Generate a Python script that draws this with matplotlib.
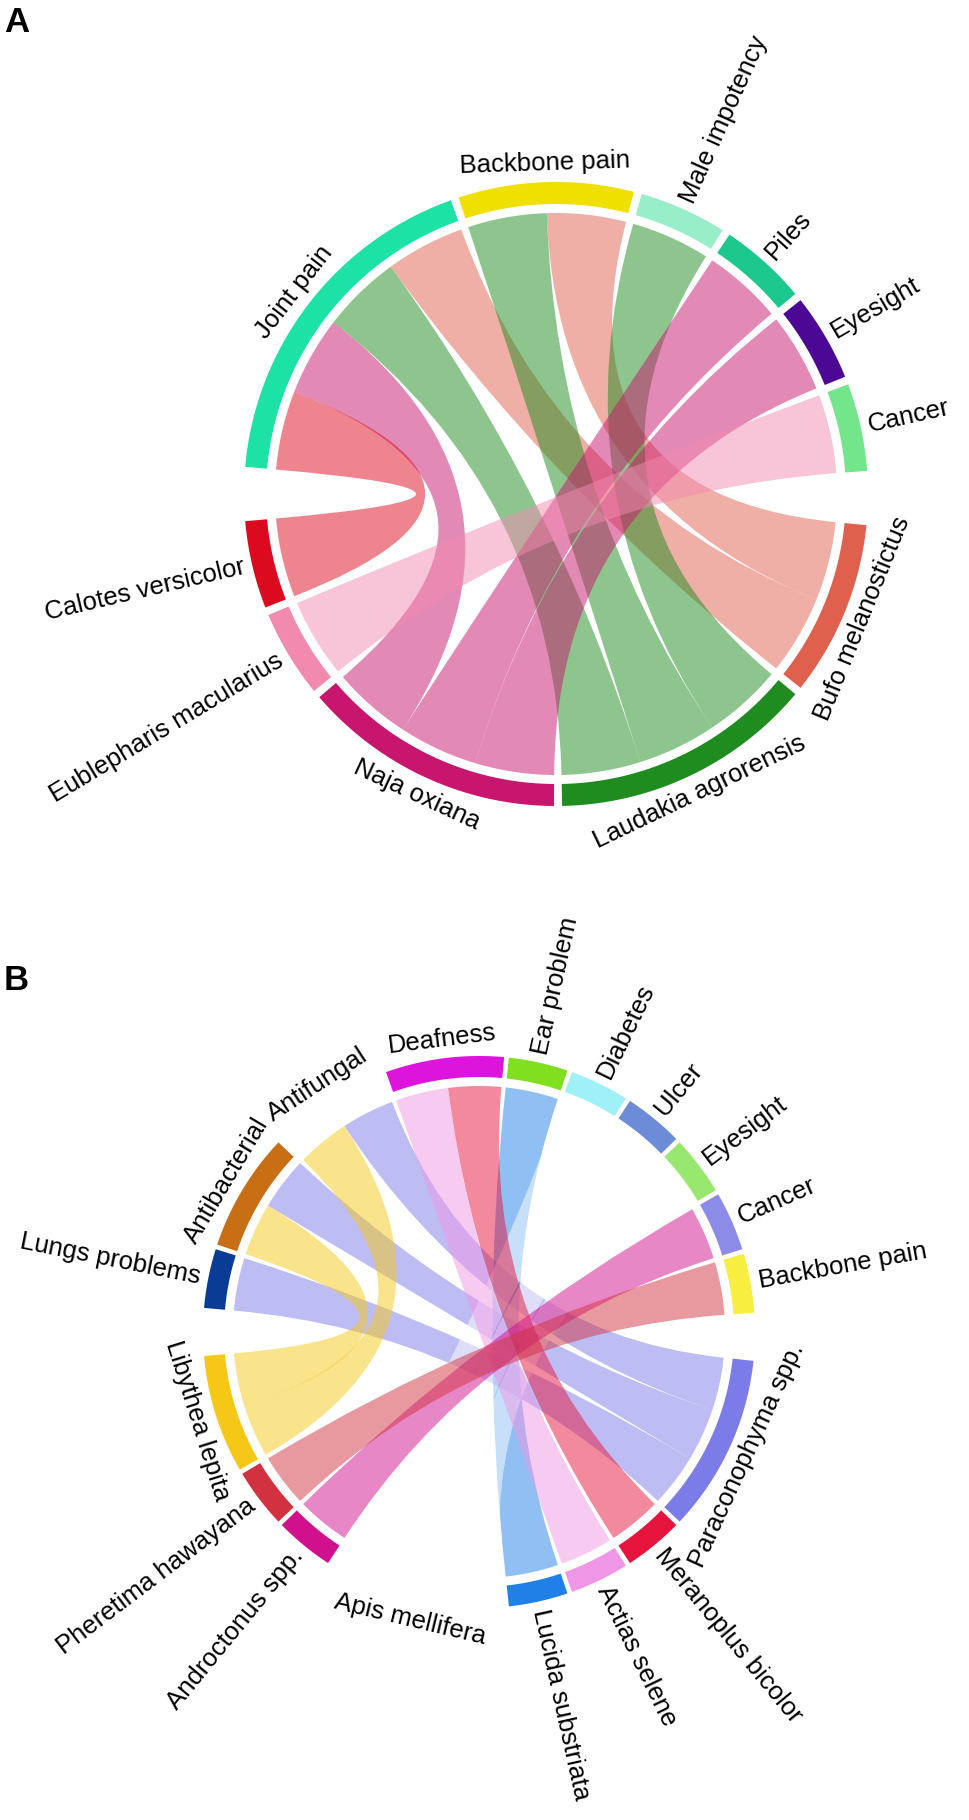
import numpy as np
import matplotlib
matplotlib.use("Agg")
import matplotlib.pyplot as plt
from matplotlib.path import Path
from matplotlib.patches import PathPatch, Polygon

plt.rcParams['font.family'] = ['Liberation Sans', 'DejaVu Sans']

# ---------------- Panel A data ----------------
a_sectors = ["Joint pain", "Backbone pain", "Male impotency", "Piles", "Eyesight", "Cancer",
             "Bufo melanostictus", "Laudakia agrorensis", "Naja oxiana",
             "Eublepharis macularius", "Calotes versicolor"]
a_colors = ["#1DE2A6", "#F0E000", "#98EEC8", "#1CC88E", "#4B0894", "#73E68C",
            "#E0604E", "#1E8C1E", "#C8156E", "#F28AB0", "#DC0A1E"]
a_link_species = ["Bufo melanostictus", "Bufo melanostictus",
                  "Laudakia agrorensis", "Laudakia agrorensis", "Laudakia agrorensis",
                  "Naja oxiana", "Naja oxiana", "Naja oxiana",
                  "Eublepharis macularius", "Calotes versicolor"]
a_link_use = ["Joint pain", "Backbone pain",
              "Joint pain", "Backbone pain", "Male impotency",
              "Joint pain", "Piles", "Eyesight",
              "Cancer", "Joint pain"]
a_link_value = [1, 1, 1, 1, 1, 1, 1, 1, 1, 1]

# ---------------- Panel B data ----------------
b_sectors = ["Lungs problems", "Antibacterial", "Antifungal", "Deafness", "Ear problem",
             "Diabetes", "Ulcer", "Eyesight", "Cancer", "Backbone pain",
             "Paraconophyma spp.", "Meranoplus bicolor", "Actias selene", "Lucida substriata",
             "Apis mellifera", "Androctonus spp.", "Pheretima hawayana", "Libythea lepita"]
b_colors = ["#0A3C96", "#C86E14", "#FFFFFF", "#DC14DC", "#80E020",
            "#A0F0F8", "#6C8CD8", "#98E870", "#8C8CE8", "#F8EE40",
            "#7C7CE8", "#E6143C", "#F096E6", "#2080E8",
            "#FFFFFF", "#D0108C", "#D23240", "#F5C818"]
b_link_species = ["Paraconophyma spp.", "Paraconophyma spp.", "Paraconophyma spp.",
                  "Lucida substriata",
                  "Apis mellifera", "Apis mellifera", "Apis mellifera",
                  "Libythea lepita", "Libythea lepita",
                  "Meranoplus bicolor", "Actias selene",
                  "Androctonus spp.", "Pheretima hawayana"]
b_link_use = ["Lungs problems", "Antibacterial", "Antifungal",
              "Ear problem",
              "Diabetes", "Ulcer", "Eyesight",
              "Antibacterial", "Antifungal",
              "Deafness", "Deafness",
              "Cancer", "Backbone pain"]
b_link_value = [1, 1, 1, 1, 1, 1, 1, 1, 1, 1, 1, 1, 1]


def pt(cx, cy, r, t):
    tr = np.radians(t)
    return (cx + r * np.cos(tr), cy - r * np.sin(tr))


def chord(ax, cx, cy, r_out, ring_w, chord_gap, sectors, colors, l_sp, l_use, l_val,
          start, split_after, small_gap, big_gap, fontsize, alpha=0.5):
    n = len(sectors)
    idx = {s: i for i, s in enumerate(sectors)}
    width = np.zeros(n)
    for s, u, v in zip(l_sp, l_use, l_val):
        width[idx[s]] += v
        width[idx[u]] += v
    gaps = [big_gap if (i == split_after or i == n - 1) else small_gap for i in range(n)]
    unit = (360.0 - sum(gaps)) / width.sum()
    starts = []
    t = start
    for i in range(n):
        starts.append(t)
        t -= width[i] * unit + gaps[i]
    # slots per sector: partners sorted by descending clockwise distance
    slots = {}
    for i in range(n):
        entries = []
        for k, (s, u, v) in enumerate(zip(l_sp, l_use, l_val)):
            if idx[s] == i:
                entries.append(((idx[u] - i) % n, k, v))
            elif idx[u] == i:
                entries.append(((idx[s] - i) % n, k, v))
        entries.sort(key=lambda e: -e[0])
        off = 0.0
        for d, k, v in entries:
            a0 = starts[i] - off * unit
            a1 = starts[i] - (off + v) * unit
            slots[(i, k)] = (a0, a1)
            off += v
    r_in = r_out - ring_w
    rc = r_in - chord_gap
    # rings
    for i in range(n):
        t0, t1 = starts[i], starts[i] - width[i] * unit
        ts = np.linspace(t0, t1, 80)
        poly = [pt(cx, cy, r_out, q) for q in ts] + [pt(cx, cy, r_in, q) for q in ts[::-1]]
        ax.add_patch(Polygon(poly, closed=True, fc=colors[i], ec='none', zorder=3))
    # ribbons
    for k, (s, u, v) in enumerate(zip(l_sp, l_use, l_val)):
        i, j = idx[s], idx[u]
        a0, a1 = slots[(i, k)]
        b0, b1 = slots[(j, k)]
        verts, codes = [], []
        ta = np.linspace(a0, a1, 50)
        verts.append(pt(cx, cy, rc, ta[0])); codes.append(Path.MOVETO)
        for q in ta[1:]:
            verts.append(pt(cx, cy, rc, q)); codes.append(Path.LINETO)
        verts += [(cx, cy), pt(cx, cy, rc, b0)]; codes += [Path.CURVE3, Path.CURVE3]
        for q in np.linspace(b0, b1, 50)[1:]:
            verts.append(pt(cx, cy, rc, q)); codes.append(Path.LINETO)
        verts += [(cx, cy), pt(cx, cy, rc, a0)]; codes += [Path.CURVE3, Path.CURVE3]
        verts.append(pt(cx, cy, rc, a0)); codes.append(Path.CLOSEPOLY)
        ax.add_patch(PathPatch(Path(verts, codes), fc=colors[i], ec='none',
                               alpha=alpha, zorder=2))
    # labels
    for i in range(n):
        m = starts[i] - width[i] * unit / 2.0
        m = (m + 180) % 360 - 180
        if width[i] >= 2:
            x, y = pt(cx, cy, r_out + 19, m)
            rot = m - 90 if m >= 0 else m + 90
            ax.text(x, y, sectors[i], rotation=rot, ha='center', va='center',
                    rotation_mode='anchor', fontsize=fontsize, color='black')
        else:
            x, y = pt(cx, cy, r_out + 8, m)
            if np.cos(np.radians(m)) >= 0:
                rot, ha = m, 'left'
            else:
                rot = m - 180 if m > 0 else m + 180
                ha = 'right'
            ax.text(x, y, sectors[i], rotation=rot, ha=ha, va='center',
                    rotation_mode='anchor', fontsize=fontsize, color='black')


fig = plt.figure(figsize=(9.7, 18.2), dpi=100)
ax = fig.add_axes([0, 0, 1, 1])
ax.set_xlim(0, 970)
ax.set_ylim(1820, 0)
ax.axis('off')

chord(ax, 556, 494, 312, 22, 9, a_sectors, a_colors, a_link_species, a_link_use,
      a_link_value, start=175, split_after=5, small_gap=1.5, big_gap=10, fontsize=18.5)
chord(ax, 479, 1332, 276, 21, 9, b_sectors, b_colors, b_link_species, b_link_use,
      b_link_value, start=175, split_after=9, small_gap=1.0, big_gap=10, fontsize=18.5)

ax.text(4, 22, "A", fontsize=25, fontweight='bold', ha='left', va='center')
ax.text(4, 980, "B", fontsize=25, fontweight='bold', ha='left', va='center')

fig.savefig("out.png", dpi=100)
